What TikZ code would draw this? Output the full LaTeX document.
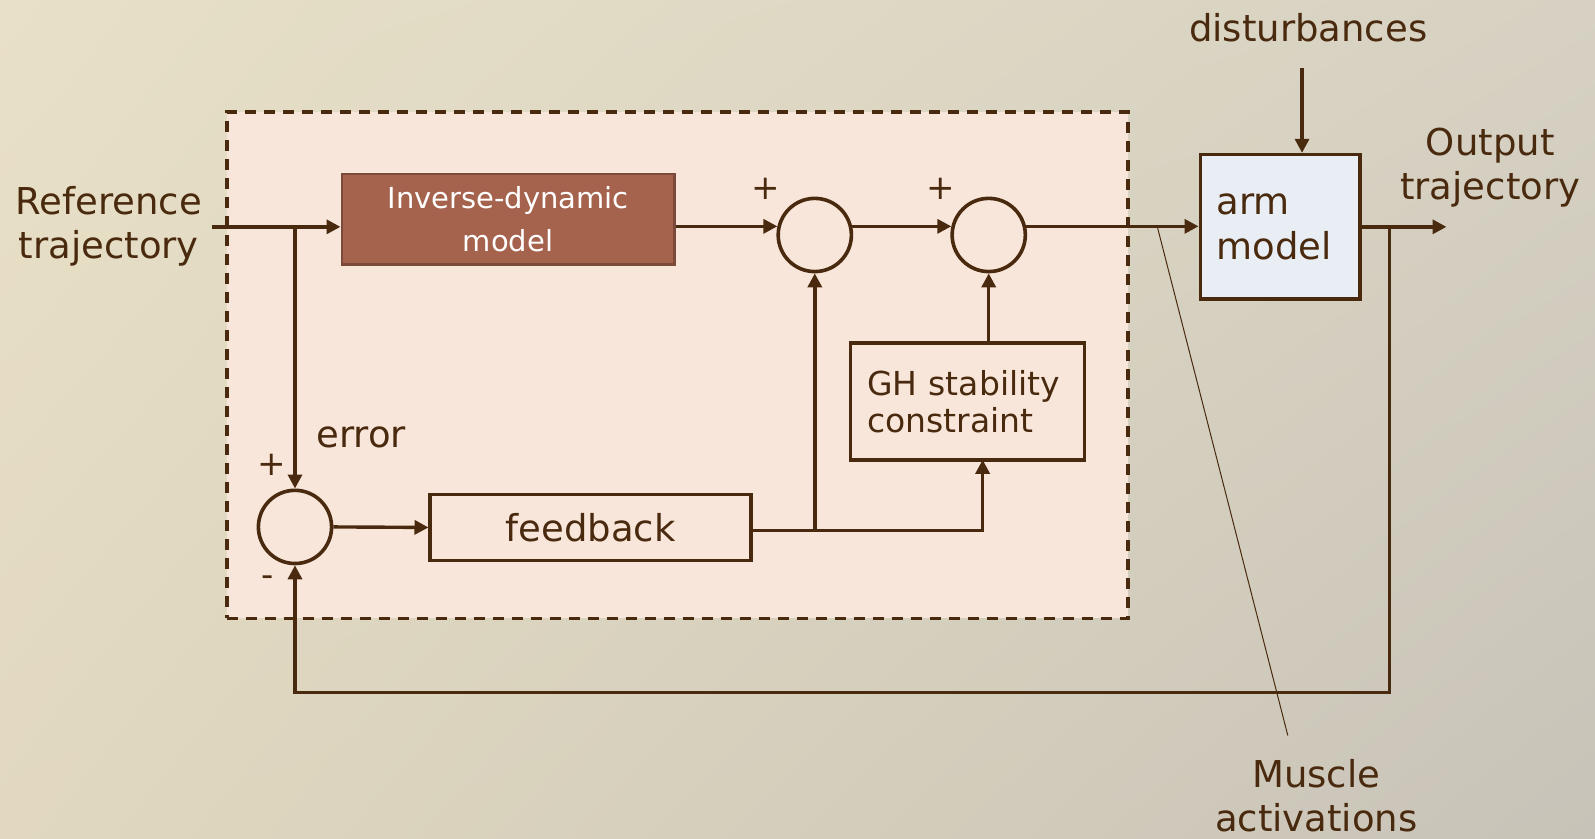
\documentclass[tikz,border=0pt]{standalone}
\usepackage{fontspec}
\setmainfont{DejaVu Sans}
\usetikzlibrary{arrows.meta,calc,shadings}
\definecolor{ink}{HTML}{4A2A0E}
\definecolor{bgA}{HTML}{E8E0C7}
\definecolor{bgB}{HTML}{D6D1C2}
\definecolor{bgC}{HTML}{E1D8BF}
\definecolor{bgD}{HTML}{C7C3B8}
\definecolor{ctrlfill}{HTML}{F8E6DA}
\definecolor{invfill}{HTML}{A5634D}
\definecolor{invline}{HTML}{7B4A3A}
\definecolor{armfill}{HTML}{E9EEF5}
\begin{document}
\begin{tikzpicture}[x=1.0172pt,y=-1.0172pt,
  line/.style={draw=ink,line width=3.4pt},
  arr/.style={line,-{Triangle[length=14pt,width=14pt]}},
  sumnode/.style={circle,draw=ink,line width=3.6pt,minimum size=73.2pt,inner sep=0pt},
  blk/.style={rectangle,draw=ink,line width=3.6pt,inner sep=0pt,text=ink},
  lbl/.style={text=ink,font=\fontsize{37}{44}\selectfont,align=center,inner sep=0pt},
  sgn/.style={text=ink,font=\fontsize{34}{40}\selectfont,inner sep=0pt}
]
\shade[shading=bilinear interpolation,upper left=bgA,upper right=bgB,lower left=bgC,lower right=bgD] (0,0) rectangle (1568,824);
\useasboundingbox (0,0) rectangle (1568,824);

% controller box
\node[draw=ink,line width=3.6pt,dash pattern=on 11pt off 8pt,fill=ctrlfill,
  minimum width=901.2pt,minimum height=506.6pt] (ctrl) at (666,359) {};

% blocks
\node[rectangle,draw=invline,line width=2.6pt,fill=invfill,minimum width=332.6pt,minimum height=90.5pt,
  text=white,align=center,font=\fontsize{29}{43}\selectfont] (inv) at (499.5,215.5) {Inverse-dynamic\\model};
\node[blk,fill=armfill,minimum width=159.7pt,minimum height=144.4pt,text width=127pt,align=left,
  font=\fontsize{37}{45}\selectfont] (arm) at (1258.5,223) {arm\\model};
\node[blk,minimum width=234pt,minimum height=117pt,text width=200pt,align=left,
  font=\fontsize{33}{37}\selectfont] (gh) at (951,394.5) {GH stability\\constraint};
\node[blk,minimum width=320.4pt,minimum height=66.1pt,font=\fontsize{37}{44}\selectfont] (fb) at (580.5,518.5) {feedback};

% summing junctions
\node[sumnode] (c1) at (801,231) {};
\node[sumnode] (c2) at (972,231) {};
\node[sumnode] (c3) at (290,518) {};

% labels
\node[lbl] (reflbl) at (107,222) {Reference\\trajectory};
\node[lbl] (distlbl) at (1286,27) {disturbances};
\node[lbl] (outlbl) at (1465,165) {Output\\trajectory};
\node[lbl,anchor=west] (errlbl) at (311,430) {error};
\node[lbl] (muslbl) at (1294,782) {Muscle\\activations};
\node[sgn] (p1) at (753,186) {+};
\node[sgn] (p2) at (925,186) {+};
\node[sgn] (p3) at (267,457) {+};
\node[sgn] (m3) at (263,571) {-};

% coordinates
\coordinate (rin) at (208,223);
\coordinate (j1) at (290,223);
\coordinate (dtop) at (1280,67);
\coordinate (outend) at (1422,223);
\coordinate (j2) at (1366,223);
\coordinate (lb) at (290,681);
\coordinate (ghin) at (966,452);
\coordinate (mA) at (1138,224);
\coordinate (mB) at (1266,723);

% connectors
\draw[arr] (rin) -- (inv.west |- rin);
\draw[arr] (j1) -- (c3.north);
\draw[arr] (inv.east |- c1.167) -- (c1.167);
\draw[arr] (c1.13) -- (c2.167);
\draw[arr] (c2.13) -- (arm.west |- c2.13);
\draw[arr] (dtop) -- (dtop |- arm.north);
\draw[arr] (arm.east |- outend) -- (outend);
\draw[arr] (j2) |- (lb) -- (c3.south);
\draw[arr] (c3.east) -- (fb.west);
\draw[arr] ($(fb.east)+(0,3)$) -| (c1.south);
\draw[arr] ($(fb.east)+(0,3)$) -| (ghin);
\draw[arr] (gh.north -| c2.south) -- (c2.south);
\draw[draw=ink,line width=1pt] (mA) -- (mB);
\end{tikzpicture}
\end{document}
